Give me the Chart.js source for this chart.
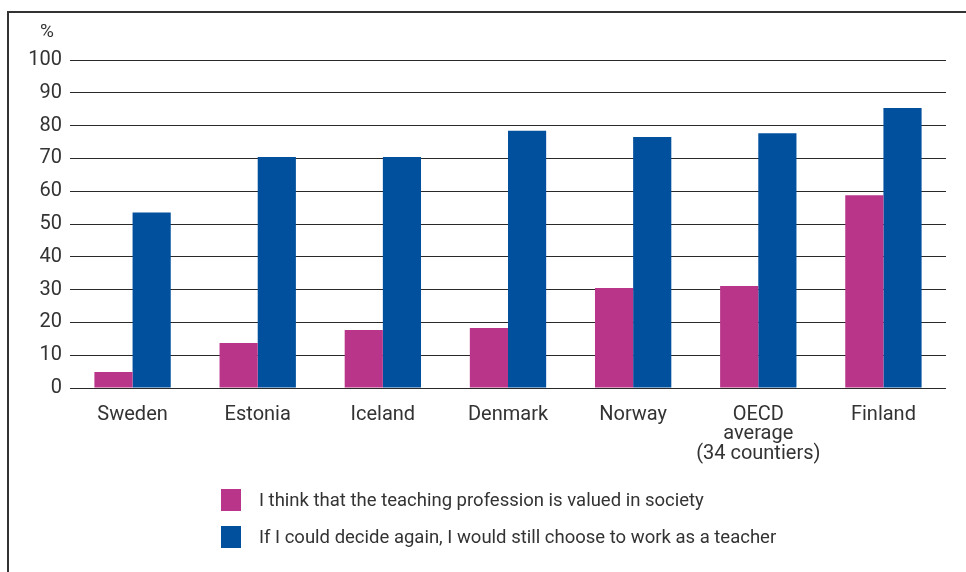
<!DOCTYPE html>
<html>
<head>
<meta charset="utf-8">
<script src="https://cdn.jsdelivr.net/npm/chart.js@4/dist/chart.umd.min.js"></script>
<style>
  html, body { margin: 0; padding: 0; background: #fff; }
  #wrap { position: relative; width: 966px; height: 572px; }
  #frame { position: absolute; left: 7px; top: 11px; right: -2px; bottom: -2px; border-left: 2px solid #333; border-top: 2px solid #333; pointer-events: none; }
  canvas { position: absolute; left: 0; top: 0; }
</style>
</head>
<body>
<div id="wrap">
  <canvas id="c" width="966" height="572"></canvas>
  <div id="frame"></div>
</div>
<script>
const categories = ["Sweden", "Estonia", "Iceland", "Denmark", "Norway", ["OECD", "average", "(34 countiers)"], "Finland"];
const valuedInSociety = [4.9, 13.7, 17.7, 18.3, 30.5, 31.1, 58.8];
const wouldChooseAgain = [53.5, 70.4, 70.4, 78.4, 76.5, 77.7, 85.4];
const seriesLabels = ["I think that the teaching profession is valued in society", "If I could decide again, I would still choose to work as a teacher"];
const seriesColors = ["#B8358A", "#00509E"];
const yTicks = [0, 10, 20, 30, 40, 50, 60, 70, 80, 90, 100];

const FONT = "Roboto, 'DejaVu Sans', sans-serif";
const TXT = "#333";

const extras = {
  id: "extras",
  afterDraw(chart) {
    const ctx = chart.ctx;
    const a = chart.chartArea;
    ctx.save();
    ctx.fillStyle = TXT;
    ctx.font = "19px " + FONT;
    ctx.textAlign = "center";
    ctx.textBaseline = "middle";
    ctx.fillText("%", a.left - 23, a.top - 28);
    // legend
    ctx.textAlign = "left";
    ctx.font = "18.5px " + FONT;
    chart.data.datasets.forEach((ds, i) => {
      const y = 500 + i * 37;
      ctx.fillStyle = ds.backgroundColor;
      ctx.fillRect(221, y - 11, 20, 22);
      ctx.fillStyle = TXT;
      ctx.fillText(ds.label, 259, y + 1);
    });
    ctx.restore();
  }
};

new Chart(document.getElementById("c"), {
  type: "bar",
  data: {
    labels: categories,
    datasets: [
      { label: seriesLabels[0], data: valuedInSociety, backgroundColor: seriesColors[0] },
      { label: seriesLabels[1], data: wouldChooseAgain, backgroundColor: seriesColors[1] }
    ]
  },
  options: {
    responsive: false,
    animation: false,
    layout: { padding: { left: 0, right: 20, top: 60, bottom: 0 } },
    datasets: { bar: { categoryPercentage: 0.61, barPercentage: 1.0 } },
    plugins: { legend: { display: false }, tooltip: { enabled: false } },
    scales: {
      x: {
        grid: { display: false, drawTicks: false },
        border: { display: false },
        ticks: { color: TXT, font: { family: FONT, size: 20, lineHeight: 0.97 }, padding: 17, maxRotation: 0, autoSkip: false },
        afterFit(s) { s.height = 184; }
      },
      y: {
        min: 0, max: 100,
        afterBuildTicks(s) { s.ticks = yTicks.map(v => ({ value: v })); },
        grid: { color: "#2a2a2a", lineWidth: 1, drawTicks: false },
        border: { display: false },
        ticks: { color: TXT, font: { family: FONT, size: 20 }, padding: 8 },
        afterFit(s) { s.width = 70; }
      }
    }
  },
  plugins: [extras]
});
</script>
</body>
</html>
